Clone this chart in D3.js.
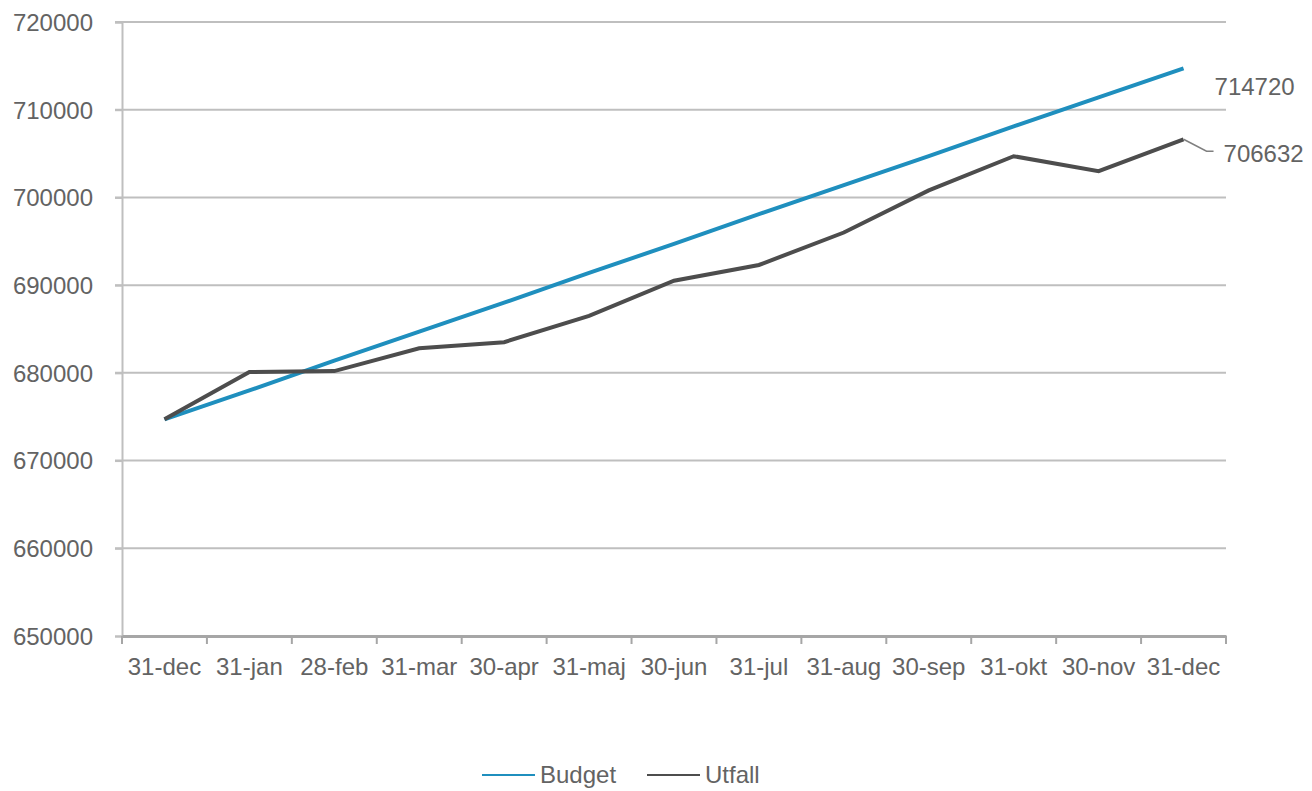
<!DOCTYPE html>
<html>
<head>
<meta charset="utf-8">
<script src="https://cdn.jsdelivr.net/npm/d3@7"></script>
<style>
body { margin: 0; background: #fff; }
text { font-family: "Liberation Sans", Arial, sans-serif; fill: #636363; }
</style>
</head>
<body>
<div id="chart"></div>
<script>
var categories = ["31-dec", "31-jan", "28-feb", "31-mar", "30-apr", "31-maj", "30-jun",
                  "31-jul", "31-aug", "30-sep", "31-okt", "30-nov", "31-dec "];
var budget = [674700, 678000, 681400, 684700, 688000, 691400, 694700,
              698100, 701400, 704700, 708100, 711400, 714720];
var utfall = [674700, 680100, 680200, 682800, 683500, 686500, 690500,
              692300, 696000, 700800, 704700, 703000, 706632];
var yTicks = [650000, 660000, 670000, 680000, 690000, 700000, 710000, 720000];

var W = 1312, H = 791;
var m = {left: 122, right: 86, top: 22, bottom: 155};

var svg = d3.select("#chart").append("svg")
	.attr("width", W)
	.attr("height", H);

var x = d3.scaleBand()
	.domain(categories)
	.range([m.left, W - m.right]);

var y = d3.scaleLinear()
	.domain([650000, 720000])
	.range([H - m.bottom, m.top]);

// gridlines
svg.append("g").selectAll("line")
	.data(yTicks.slice(1))
	.enter().append("line")
	.attr("x1", m.left - 7)
	.attr("x2", W - m.right)
	.attr("y1", function(d){ return y(d); })
	.attr("y2", function(d){ return y(d); })
	.attr("stroke", "#bfbfbf")
	.attr("stroke-width", 2);

// y axis
var yAxis = svg.append("g")
	.attr("transform", "translate(" + m.left + ",0)")
	.call(d3.axisLeft(y).tickValues(yTicks).tickSize(7).tickPadding(22).tickFormat(d3.format("d")));
yAxis.select(".domain").attr("stroke", "#bfbfbf").attr("stroke-width", 2);
yAxis.selectAll(".tick line").attr("stroke", "#bfbfbf").attr("stroke-width", 2);
yAxis.selectAll("text").attr("font-size", 24).attr("fill", "#636363").attr("dy", "0.35em");

// x axis
var xAxis = svg.append("g")
	.attr("transform", "translate(0," + (H - m.bottom) + ")")
	.call(d3.axisBottom(x).tickSize(0).tickPadding(22));
xAxis.select(".domain").attr("stroke", "#a6a6a6").attr("stroke-width", 3);
xAxis.selectAll("text").attr("font-size", 24).attr("fill", "#636363");

var bounds = categories.map(function(c){ return x(c); }).concat([W - m.right]);
svg.append("g").selectAll("line")
	.data(bounds)
	.enter().append("line")
	.attr("x1", function(d){ return d; })
	.attr("x2", function(d){ return d; })
	.attr("y1", H - m.bottom)
	.attr("y2", H - m.bottom + 8)
	.attr("stroke", "#a6a6a6")
	.attr("stroke-width", 2);

var cx = function(d, i){ return x(categories[i]) + x.bandwidth() / 2; };

var line = d3.line()
	.x(cx)
	.y(function(d){ return y(d); });

svg.append("path")
	.datum(budget)
	.attr("d", line)
	.attr("fill", "none")
	.attr("stroke", "#1f8fbe")
	.attr("stroke-width", 4);

svg.append("path")
	.datum(utfall)
	.attr("d", line)
	.attr("fill", "none")
	.attr("stroke", "#4d4d4d")
	.attr("stroke-width", 4);

// end labels
var last = categories.length - 1;
var lx = cx(null, last);
svg.append("text")
	.attr("x", lx + 31)
	.attr("y", y(budget[last]) + 18)
	.attr("dy", "0.35em")
	.attr("font-size", 24)
	.text(budget[last]);

var uy = y(utfall[last]);
svg.append("path")
	.attr("d", "M" + lx + "," + uy + " L" + (lx + 23) + "," + (uy + 12) + " L" + (lx + 30) + "," + (uy + 12))
	.attr("fill", "none")
	.attr("stroke", "#7f7f7f")
	.attr("stroke-width", 1.5);
svg.append("text")
	.attr("x", lx + 40)
	.attr("y", uy + 14)
	.attr("dy", "0.35em")
	.attr("font-size", 24)
	.text(utfall[last]);

// legend
var legend = [["Budget", "#1f8fbe", 482], ["Utfall", "#4d4d4d", 647]];
var lg = svg.append("g").selectAll("g")
	.data(legend)
	.enter().append("g")
	.attr("transform", function(d){ return "translate(" + d[2] + ",775)"; });
lg.append("line")
	.attr("x1", 0).attr("x2", 53)
	.attr("stroke", function(d){ return d[1]; })
	.attr("stroke-width", 2);
lg.append("text")
	.attr("x", 58)
	.attr("dy", "0.35em")
	.attr("font-size", 24)
	.text(function(d){ return d[0]; });
</script>
</body>
</html>
